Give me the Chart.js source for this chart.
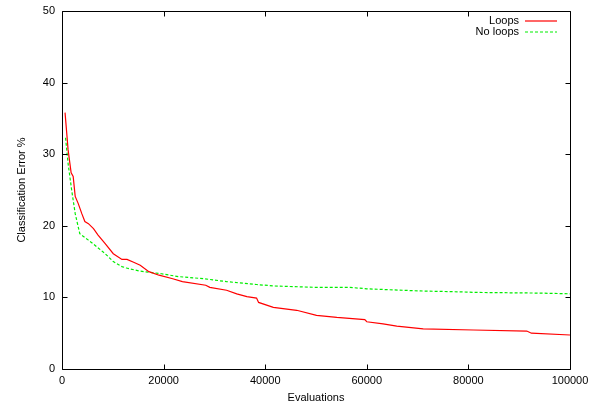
<!DOCTYPE html>
<html>
<head>
<meta charset="utf-8">
<script src="https://cdn.jsdelivr.net/npm/chart.js@4/dist/chart.umd.min.js"></script>
<style>
html,body{margin:0;padding:0;background:#fff;}
#wrap{width:595px;height:406px;position:relative;}
</style>
</head>
<body>
<div id="wrap"><canvas id="c" width="595" height="406"></canvas></div>
<script>
// ---- data ----
const seriesNames = ["Loops", "No loops"];
const loopsEvals = [600,1200,1800,2200,2600,3200,3900,4500,5200,6200,7100,8500,10100,11800,12800,14100,15400,17100,19100,21800,23700,28300,29100,32400,34400,36400,38300,38700,41600,46200,50100,54100,59600,60000,63200,65900,71100,81000,91500,92400,100000];
const loopsError = [35.8,30.6,27.4,26.9,24.1,23.1,21.7,20.6,20.3,19.6,18.7,17.5,16.1,15.3,15.3,14.9,14.5,13.6,13.1,12.6,12.2,11.7,11.4,11.0,10.5,10.1,9.9,9.3,8.6,8.2,7.5,7.2,6.9,6.6,6.3,6.0,5.6,5.45,5.3,5.0,4.75];
const noLoopsEvals = [700,1200,1900,2600,3500,5200,6800,8500,10100,11800,12700,15100,17300,19600,23000,28100,32400,38300,41600,50100,56700,60000,70500,79700,81000,94100,100000];
const noLoopsError = [32.3,28.7,25.0,21.7,18.9,18.0,17.1,16.1,15.0,14.3,14.1,13.7,13.5,13.3,12.9,12.6,12.2,11.8,11.6,11.4,11.4,11.2,10.9,10.75,10.7,10.6,10.5];
const xTicks = [0,20000,40000,60000,80000,100000];
const yTicks = [0,10,20,30,40,50];
const xTitle = "Evaluations";
const yTitle = "Classification Error %";

const FONT = "'Liberation Sans', Arial, Helvetica, sans-serif";
const COLORS = ['#ff0000', '#00ee00'];
const DASHES = [[], [3, 2]];
const toXY = (xs, ys) => xs.map((x, i) => ({x: x, y: ys[i]}));

const framePlugin = {
  id: 'frame',
  afterDraw(chart) {
    const ctx = chart.ctx;
    const a = chart.chartArea;
    const xs = chart.scales.x, ys = chart.scales.y;
    ctx.save();
    ctx.strokeStyle = '#000';
    ctx.lineWidth = 1;
    ctx.setLineDash([]);
    ctx.beginPath();
    const L = Math.round(a.left) + 0.5, R = Math.round(a.right) + 0.5;
    const T = Math.round(a.top) + 0.5, B = Math.round(a.bottom) + 0.5;
    ctx.rect(L, T, R - L, B - T);
    const tl = 5;
    xTicks.forEach(v => {
      const px = Math.round(xs.getPixelForValue(v)) + 0.5;
      ctx.moveTo(px, B); ctx.lineTo(px, B - tl);
      ctx.moveTo(px, T); ctx.lineTo(px, T + tl);
    });
    yTicks.forEach(v => {
      const py = Math.round(ys.getPixelForValue(v)) + 0.5;
      ctx.moveTo(L, py); ctx.lineTo(L + tl, py);
      ctx.moveTo(R, py); ctx.lineTo(R - tl, py);
    });
    ctx.stroke();

    // legend (gnuplot style: text right-aligned, sample to the right)
    ctx.font = "11px " + FONT;
    ctx.textAlign = 'right';
    ctx.textBaseline = 'middle';
    seriesNames.forEach((name, i) => {
      const y = 20.5 + i * 11;
      ctx.fillStyle = '#000';
      ctx.fillText(name, 519, y);
      ctx.save();
      ctx.strokeStyle = COLORS[i];
      ctx.lineWidth = 1.2;
      ctx.setLineDash(DASHES[i]);
      ctx.beginPath();
      ctx.moveTo(525, Math.round(y));
      ctx.lineTo(557, Math.round(y));
      ctx.stroke();
      ctx.restore();
    });
    ctx.restore();
  }
};

new Chart(document.getElementById('c'), {
  type: 'line',
  data: {
    datasets: [
      {label: seriesNames[0], data: toXY(loopsEvals, loopsError), borderColor: COLORS[0], borderWidth: 1.2, borderDash: DASHES[0], pointRadius: 0, tension: 0, fill: false},
      {label: seriesNames[1], data: toXY(noLoopsEvals, noLoopsError), borderColor: COLORS[1], borderWidth: 1.2, borderDash: DASHES[1], pointRadius: 0, tension: 0, fill: false}
    ]
  },
  options: {
    responsive: false,
    animation: false,
    devicePixelRatio: 1,
    layout: {padding: {top: 11, right: 25, bottom: 0, left: 0}},
    plugins: {legend: {display: false}, tooltip: {enabled: false}},
    scales: {
      x: {
        type: 'linear', min: 0, max: 100000,
        afterBuildTicks: s => { s.ticks = xTicks.map(v => ({value: v})); },
        afterFit: s => { s.height = 37; },
        grid: {display: false, drawTicks: false},
        border: {display: false},
        ticks: {color: '#000', font: {family: FONT, size: 11}, padding: 5, maxRotation: 0, callback: v => String(v)},
        title: {display: true, text: xTitle, color: '#000', font: {family: FONT, size: 11}, padding: {top: 0, bottom: 1}}
      },
      y: {
        type: 'linear', min: 0, max: 50,
        afterBuildTicks: s => { s.ticks = yTicks.map(v => ({value: v})); },
        afterFit: s => { s.width = 62; s.paddingTop = 0; s.paddingBottom = 0; },
        grid: {display: false, drawTicks: false},
        border: {display: false},
        ticks: {color: '#000', font: {family: FONT, size: 11}, padding: 7, callback: v => String(v)},
        title: {display: true, text: yTitle, color: '#000', font: {family: FONT, size: 11}, padding: {top: 15, bottom: 0}}
      }
    }
  },
  plugins: [framePlugin]
});
</script>
</body>
</html>
